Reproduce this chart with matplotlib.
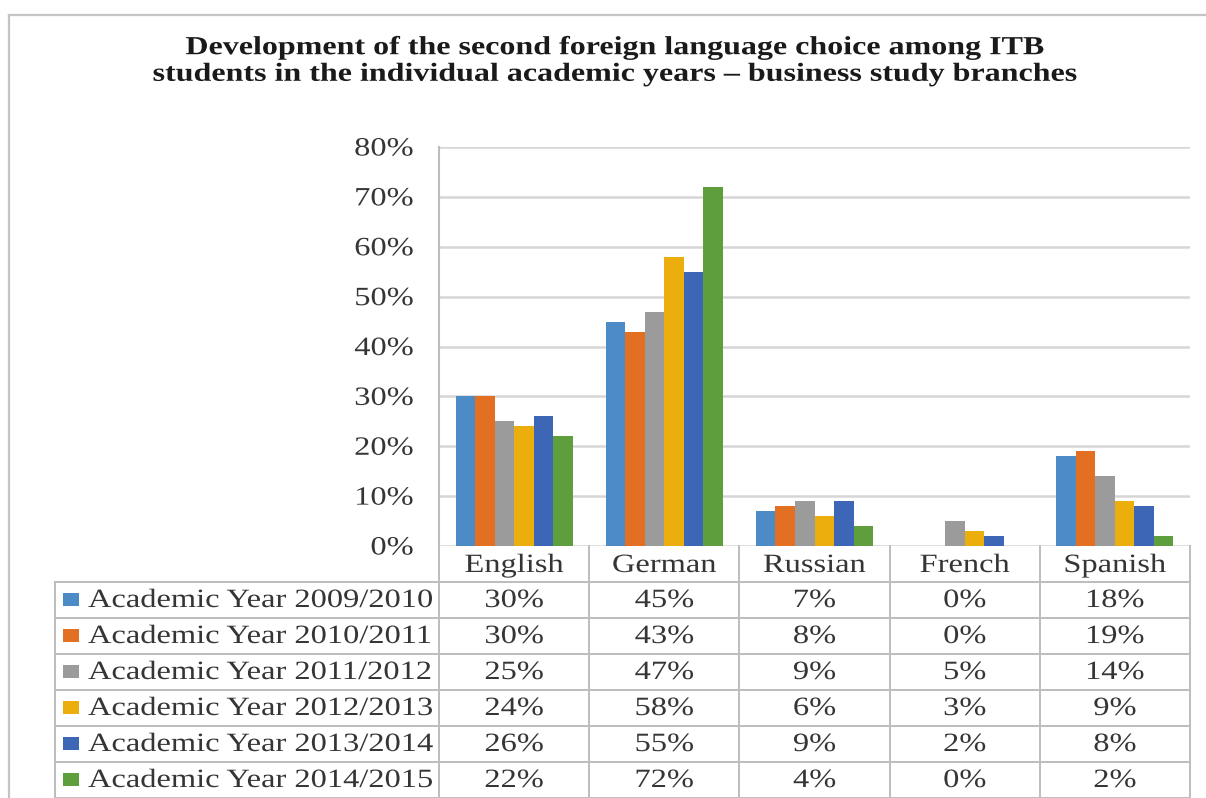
import numpy as np
import matplotlib
matplotlib.use("Agg")
import matplotlib.pyplot as plt
import matplotlib.transforms as mtransforms
from matplotlib.lines import Line2D
from matplotlib.patches import Rectangle
from matplotlib.patheffects import AbstractPathEffect

# Data
languages = ["English", "German", "Russian", "French", "Spanish"]
years = [
    "Academic Year 2009/2010",
    "Academic Year 2010/2011",
    "Academic Year 2011/2012",
    "Academic Year 2012/2013",
    "Academic Year 2013/2014",
    "Academic Year 2014/2015",
]
share_2009 = [30, 45, 7, 0, 18]
share_2010 = [30, 43, 8, 0, 19]
share_2011 = [25, 47, 9, 5, 14]
share_2012 = [24, 58, 6, 3, 9]
share_2013 = [26, 55, 9, 2, 8]
share_2014 = [22, 72, 4, 0, 2]
series = [share_2009, share_2010, share_2011, share_2012, share_2013, share_2014]
colors = ["#4C8BC6", "#E36F22", "#9B9B9B", "#EBAE0C", "#3E66B6", "#5F9E3C"]

title = ("Development of the second foreign language choice among ITB\n"
         "students in the individual academic years \u2013 business study branches")

SERIF = ["Liberation Serif", "DejaVu Serif"]
TXT = "#353535"
GRID = "#D6D6D6"
RULE = "#BDBDBD"
FS = 19
SX = 1.23


class Widen(AbstractPathEffect):
    """Draw text glyphs widened horizontally about a chosen anchor."""

    def __init__(self, sx, anchor="center"):
        super().__init__()
        self.sx = sx
        self.anchor = anchor

    def draw_path(self, renderer, gc, tpath, affine, rgbFace=None):
        ext = tpath.get_extents()
        if self.anchor == "left":
            cx = 0.0
        elif self.anchor == "right":
            cx = ext.x1
        else:
            cx = 0.5 * (ext.x0 + ext.x1)
        widen = (mtransforms.Affine2D().translate(-cx, 0)
                 .scale(self.sx, 1).translate(cx, 0))
        renderer.draw_path(gc, tpath, widen + affine, rgbFace)


W, H = 1206, 798
fig = plt.figure(figsize=(W / 100, H / 100), dpi=100)
fig.patch.set_facecolor("white")


def fx(x):
    return x / W


def fy(y):
    return 1 - y / H


# Plot area
ax_left, ax_right, ax_top, ax_bottom = 439, 1190, 147, 546
ax = fig.add_axes([fx(ax_left), fy(ax_bottom), (ax_right - ax_left) / W,
                   (ax_bottom - ax_top) / H])

x = np.arange(len(languages))
n = len(series)
bw = 0.78 / n
for j, (vals, c) in enumerate(zip(series, colors)):
    ax.bar(x + (j - (n - 1) / 2) * bw, np.array(vals) / 100, bw,
           color=c, edgecolor="none", zorder=3)

ax.set_xlim(-0.5, len(languages) - 0.5)
ax.set_ylim(0, 0.8)
yt = np.arange(0, 0.81, 0.1)
ax.set_yticks(yt)
ax.set_yticklabels([f"{int(round(v * 100))}%" for v in yt],
                   fontfamily=SERIF, fontsize=FS, color=TXT)
for tick in ax.yaxis.get_major_ticks():
    tick.label1.set_path_effects([Widen(SX, "right")])
ax.set_xticks([])
ax.tick_params(axis="y", length=0, pad=18.5)
ax.yaxis.grid(True, color=GRID, linewidth=1.8, zorder=0)
ax.set_axisbelow(True)
for s in ["top", "right", "bottom"]:
    ax.spines[s].set_visible(False)
ax.spines["left"].set_color(RULE)
ax.spines["left"].set_linewidth(1.5)

# Title
fig.text(fx(614), fy(61), title, ha="center", va="center",
         fontfamily=SERIF, fontweight="bold", fontsize=18.75, color="#1A1A1A",
         linespacing=1.2, path_effects=[Widen(SX, "center")])

# Outer chart frame
fig.add_artist(Line2D([fx(9), fx(9)], [fy(15), 0], transform=fig.transFigure,
                      color="#C4C4C4", linewidth=1.6))
fig.add_artist(Line2D([fx(9), 1], [fy(15), fy(15)], transform=fig.transFigure,
                      color="#C4C4C4", linewidth=1.6))

# Data table under the plot
blend = mtransforms.blended_transform_factory(ax.transData, fig.transFigure)
header_top, header_bot = ax_bottom, 582
row_h = 36
table_left = 55
rows_y = [header_bot + i * row_h for i in range(n + 1)]

# vertical rules between category columns
for b in np.arange(len(languages) + 1) - 0.5:
    fig.add_artist(Line2D([b, b], [fy(header_top), fy(rows_y[-1])],
                          transform=blend, color=RULE, linewidth=1.4))
# left edge of legend column
fig.add_artist(Line2D([fx(table_left)] * 2, [fy(header_bot), fy(rows_y[-1])],
                      transform=fig.transFigure, color=RULE, linewidth=1.4))
# horizontal rules
for yy in rows_y:
    fig.add_artist(Line2D([fx(table_left), fx(ax_right)], [fy(yy), fy(yy)],
                          transform=fig.transFigure, color=RULE, linewidth=1.4))

center_fx = [Widen(SX, "center")]
left_fx = [Widen(SX, "left")]

# header row
for i, lang in enumerate(languages):
    fig.text(i, fy((header_top + header_bot) / 2 + 2), lang, transform=blend,
             ha="center", va="center", fontfamily=SERIF, fontsize=FS,
             color=TXT, path_effects=center_fx)

# body rows
for r, (label, vals, c) in enumerate(zip(years, series, colors)):
    yc = rows_y[r] + row_h / 2
    fig.add_artist(Rectangle((fx(63), fy(yc + 6)), 16 / W, 13 / H,
                             transform=fig.transFigure, facecolor=c,
                             edgecolor="none"))
    fig.text(fx(88), fy(yc + 1), label, ha="left", va="center",
             fontfamily=SERIF, fontsize=FS, color=TXT, path_effects=left_fx)
    for i, v in enumerate(vals):
        fig.text(i, fy(yc + 1), f"{v}%", transform=blend, ha="center",
                 va="center", fontfamily=SERIF, fontsize=FS, color=TXT,
                 path_effects=center_fx)

fig.savefig("out.png", dpi=100, facecolor="white")
